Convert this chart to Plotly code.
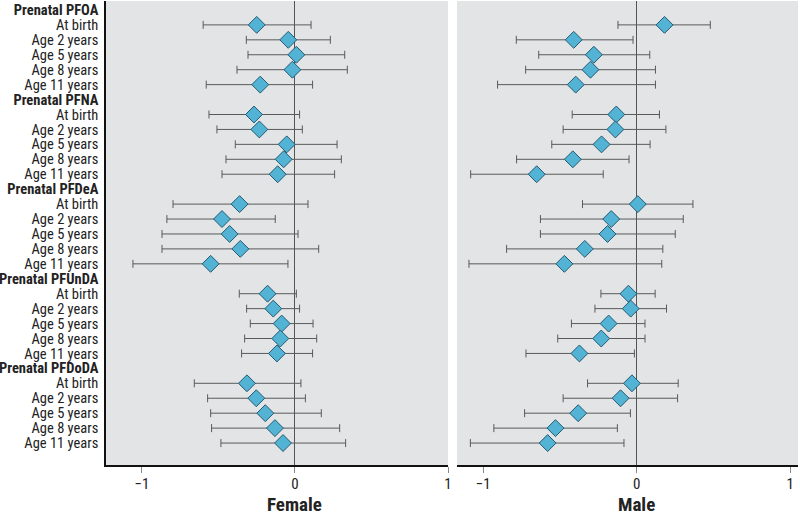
import plotly.graph_objects as go

groups = ["Prenatal PFOA", "Prenatal PFNA", "Prenatal PFDeA", "Prenatal PFUnDA", "Prenatal PFDoDA"]
ages = ["At birth", "Age 2 years", "Age 5 years", "Age 8 years", "Age 11 years"]

# Female: estimate, lower CI, upper CI (by group, then age)
female_est = [-0.25, -0.044, 0.009, -0.017, -0.227,
              -0.268, -0.233, -0.054, -0.074, -0.113,
              -0.362, -0.477, -0.427, -0.357, -0.551,
              -0.179, -0.142, -0.087, -0.096, -0.118,
              -0.314, -0.253, -0.194, -0.131, -0.078]
female_lo = [-0.60, -0.318, -0.307, -0.379, -0.58,
             -0.562, -0.51, -0.39, -0.451, -0.477,
             -0.797, -0.837, -0.869, -0.869, -1.059,
             -0.364, -0.316, -0.292, -0.329, -0.349,
             -0.658, -0.571, -0.551, -0.545, -0.484]
female_hi = [0.105, 0.231, 0.325, 0.342, 0.115,
             0.03, 0.048, 0.275, 0.303, 0.259,
             0.085, -0.129, 0.02, 0.155, -0.046,
             0.009, 0.03, 0.118, 0.142, 0.115,
             0.039, 0.068, 0.172, 0.292, 0.331]

male_est = [0.181, -0.41, -0.279, -0.301, -0.397,
            -0.133, -0.139, -0.229, -0.416, -0.651,
            0.007, -0.166, -0.19, -0.338, -0.471,
            -0.054, -0.039, -0.183, -0.231, -0.373,
            -0.031, -0.105, -0.381, -0.529, -0.58]
male_lo = [-0.122, -0.784, -0.638, -0.723, -0.906,
           -0.42, -0.479, -0.553, -0.782, -1.081,
           -0.353, -0.627, -0.627, -0.847, -1.092,
           -0.233, -0.272, -0.425, -0.514, -0.721,
           -0.32, -0.479, -0.73, -0.93, -1.083]
male_hi = [0.479, -0.024, 0.085, 0.122, 0.122,
           0.148, 0.19, 0.087, -0.05, -0.218,
           0.366, 0.303, 0.251, 0.17, 0.163,
           0.12, 0.194, 0.054, 0.054, -0.015,
           0.27, 0.266, -0.041, -0.126, -0.083]

x_ticks = [-1, 0, 1]
x_tick_labels = ["\u22121", "0", "1"]
panel_titles = ["Female", "Male"]

# Build row layout: header row per group followed by age rows
row_labels = []
data_rows = []
r = 0
for g in groups:
    row_labels.append("<b>" + g + "</b>")
    r += 1
    for a in ages:
        row_labels.append(a)
        data_rows.append(r)
        r += 1
row_pos = list(range(len(row_labels)))

FONT = "Liberation Sans Narrow, Arial Narrow, Roboto Condensed, sans-serif"
fig = go.Figure()

def add_panel(est, lo, hi, xa, ya):
    fig.add_trace(go.Scatter(
        x=est, y=data_rows, mode="markers", xaxis=xa, yaxis=ya,
        marker=dict(symbol="diamond", size=13, color="#52b3d5",
                    line=dict(color="#235a70", width=1)),
        error_x=dict(type="data", symmetric=False,
                     array=[h - e for h, e in zip(hi, est)],
                     arrayminus=[e - l for e, l in zip(est, lo)],
                     color="#5a5a5a", thickness=1, width=4),
        showlegend=False, hoverinfo="skip"))

add_panel(female_est, female_lo, female_hi, "x", "y")
add_panel(male_est, male_lo, male_hi, "x2", "y2")

L, R, T, B = 106, 2, 1, 50
W = 800 - L - R
H = 515 - T - B
d1 = (448 - L) / W
d2 = (457 - L) / W

yrange = [30.47, -0.6]
common_x = dict(tickvals=x_ticks, ticktext=x_tick_labels, ticks="outside", ticklen=6,
                tickcolor="#888", showline=True, linecolor="#111", linewidth=1.5,
                zeroline=True, zerolinecolor="#555", zerolinewidth=1,
                showgrid=False, tickfont=dict(family=FONT, size=15, color="#222"),
                ticklabelstandoff=-2, automargin=False, fixedrange=True)

fig.update_layout(
    width=800, height=515,
    margin=dict(l=L, r=R, t=T, b=B, autoexpand=False),
    paper_bgcolor="white", plot_bgcolor="#e3e4e6",
    xaxis=dict(domain=[0, d1], range=[-1.235, 1.0], **common_x),
    xaxis2=dict(domain=[d2, 1], range=[-1.17, 1.05], anchor="y2", **common_x),
    yaxis=dict(range=yrange, tickvals=row_pos, ticktext=row_labels, ticks="",
               showline=True, linecolor="#111", linewidth=1.5, showgrid=False,
               zeroline=False, ticklabelstandoff=3, automargin=False, fixedrange=True,
               tickfont=dict(family=FONT, size=14.5, color="#222")),
    yaxis2=dict(range=yrange, anchor="x2", showticklabels=False, ticks="",
                showline=False, showgrid=False, zeroline=False, automargin=False,
                fixedrange=True),
)

for xr, t in zip(["x", "x2"], panel_titles):
    fig.add_annotation(x=0, xref=xr, y=-39 / H, yref="paper", yanchor="middle",
                       text="<b>" + t + "</b>", showarrow=False,
                       font=dict(family=FONT, size=19, color="#222"))

fig.write_html("out.html", config={"displayModeBar": False},
               post_script="document.body.style.margin='0';")
